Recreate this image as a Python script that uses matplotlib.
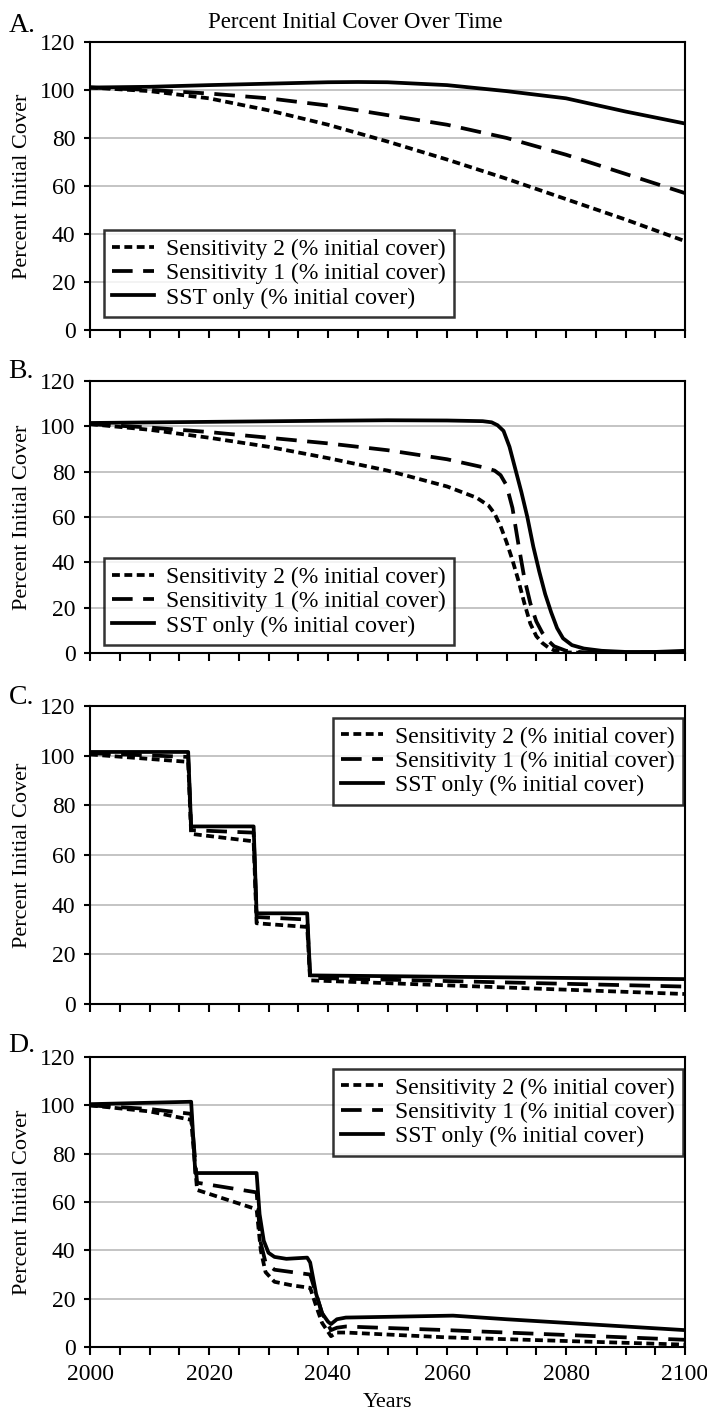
import matplotlib
matplotlib.use('Agg')
import matplotlib.pyplot as plt

plt.rcParams['font.family'] = ['Liberation Serif', 'DejaVu Serif']

# Panel A
a_years = [2000, 2010, 2020, 2030, 2040, 2045, 2050, 2060, 2070, 2080, 2090, 2100]
a_sst = [101, 101.3, 102, 102.6, 103.2, 103.3, 103.2, 102, 99.5, 96.5, 91, 86]
a_s1_years = [2000, 2010, 2020, 2030, 2040, 2050, 2060, 2070, 2080, 2090, 2100]
a_s1 = [101, 100, 98.5, 96.5, 93.5, 89.5, 85.5, 80, 73, 65, 57]
a_s2 = [101, 99.5, 96.5, 91.5, 85.5, 78.5, 71, 63, 54.5, 46, 37]

# Panel B
b_sst_years = [2000, 2020, 2040, 2050, 2060, 2066, 2067.5, 2068.5, 2069.5, 2070.5, 2071.5, 2072.5,
               2073.5, 2074.5, 2075.5, 2076.5, 2077.5, 2078.5, 2079.5, 2081, 2083, 2086, 2090, 2095, 2100]
b_sst = [101.5, 102, 102.5, 102.7, 102.6, 102.3, 101.8, 100.5, 98, 91, 81, 71,
         60, 47, 36, 26, 18, 11, 6.5, 3.5, 2, 1, 0.5, 0.5, 1]
b_s1_years = [2000, 2010, 2020, 2030, 2040, 2050, 2060, 2066, 2068, 2069, 2070, 2071, 2072,
              2073, 2074, 2075, 2076, 2077, 2078, 2080, 2083, 2090, 2100]
b_s1 = [101, 99.5, 97.5, 95, 92.5, 89.5, 85.5, 82, 80.5, 78.5, 74, 64, 48,
        33, 22, 14, 9, 5.5, 3, 1, 0.3, 0.2, 0.5]
b_s2_years = [2000, 2010, 2020, 2030, 2040, 2050, 2060, 2065, 2067, 2068, 2069, 2070, 2071,
              2072, 2073, 2074, 2075, 2076, 2077, 2078, 2080, 2085, 2100]
b_s2 = [101, 98.5, 95, 91, 86, 80.5, 73.5, 68.5, 65, 61.5, 56, 49, 41,
        32, 22, 13, 7.5, 4.5, 2.5, 1.2, 0.3, 0, 0]

# Panel C
c_years = [2000, 2016.5, 2017, 2027.5, 2028, 2036.5, 2037, 2100]
c_sst = [101.5, 101.5, 71.5, 71.5, 36.5, 36.5, 11.5, 10]
c_s1 = [101, 99.5, 70, 69, 35, 34, 10.5, 7]
c_s2 = [100.5, 97.5, 68.5, 65.5, 32.5, 31, 9.5, 4]

# Panel D
d_sst_years = [2000, 2017, 2017.7, 2028, 2028.5, 2029.2, 2030, 2031, 2033, 2036.5, 2037, 2038,
               2039, 2040, 2040.5, 2041.5, 2043, 2050, 2061, 2070, 2080, 2090, 2100]
d_sst = [100.5, 101.5, 72, 72, 55, 44, 39, 37.3, 36.5, 37, 35, 22,
         14, 10.5, 9.5, 11.5, 12.2, 12.5, 13, 11.5, 10, 8.5, 7]
d_years = [2000, 2010, 2017, 2018, 2028, 2028.7, 2029.5, 2031, 2034, 2037, 2038, 2039,
           2040.5, 2041.5, 2043, 2060, 2080, 2100]
d_s1 = [100, 98.5, 96.5, 68, 64, 43, 35, 32, 31, 30, 22, 14, 7, 8, 8.5, 7, 5, 3]
d_s2 = [100, 97.5, 94, 65, 57, 40, 31, 27, 25.5, 24.5, 17, 10, 4.5, 6, 6, 4, 2.5, 1]

labels = ['Sensitivity 2 (% initial cover)', 'Sensitivity 1 (% initial cover)', 'SST only (% initial cover)']
x_ticks = list(range(2000, 2101, 5))
x_ticklabels = [str(t) if t % 20 == 0 else '' for t in x_ticks]
y_ticks = [0, 20, 40, 60, 80, 100, 120]

panels = [
    ('A.', (a_s1_years, a_s2), (a_s1_years, a_s1), (a_years, a_sst)),
    ('B.', (b_s2_years, b_s2), (b_s1_years, b_s1), (b_sst_years, b_sst)),
    ('C.', (c_years, c_s2), (c_years, c_s1), (c_years, c_sst)),
    ('D.', (d_years, d_s2), (d_years, d_s1), (d_sst_years, d_sst)),
]

# axes positions in figure fractions (left, bottom, width, height)
boxes = [
    (0.1273, 0.7670, 0.8416, 0.2034),
    (0.1273, 0.5388, 0.8416, 0.1921),
    (0.1273, 0.2910, 0.8416, 0.2104),
    (0.1273, 0.0487, 0.8416, 0.2048),
]
leg_pos = [('lower left', (0.023, 0.045)), ('lower left', (0.023, 0.03)),
           ('upper right', (0.997, 0.96)), ('upper right', (0.997, 0.959))]
label_y = [1 - 25 / 1416, 1 - 372 / 1416, 1 - 698 / 1416, 1 - 1045 / 1416]

fig = plt.figure(figsize=(7.07, 14.16), dpi=100)

for i, (name, s2, s1, sst) in enumerate(panels):
    ax = fig.add_axes(boxes[i])
    ax.plot(s2[0], s2[1], color='black', lw=2.7, dashes=(2.1, 1.2), label=labels[0])
    ax.plot(s1[0], s1[1], color='black', lw=2.7, dashes=(5.5, 2.8), label=labels[1])
    ax.plot(sst[0], sst[1], color='black', lw=2.7, label=labels[2])

    ax.set_xlim(2000, 2100)
    ax.set_ylim(0, 120)
    ax.set_yticks(y_ticks)
    ax.set_xticks(x_ticks)
    if i == 3:
        ax.set_xticklabels(x_ticklabels)
        ax.set_xlabel('Years', fontsize=16, labelpad=6)
    else:
        ax.set_xticklabels([])
    ax.grid(axis='y', color='#b4b4b4', lw=1.1)
    ax.set_axisbelow(True)
    ax.tick_params(axis='x', direction='out', length=6, width=1.5, labelsize=17, pad=6)
    ax.tick_params(axis='y', direction='out', length=4.5, width=1.5, labelsize=17, pad=6)
    for sp in ax.spines.values():
        sp.set_linewidth(1.5)
        sp.set_color('black')
    ax.set_ylabel('Percent Initial Cover', fontsize=16)
    ax.yaxis.set_label_coords(-0.098, 0.5)

    loc, anchor = leg_pos[i]
    leg = ax.legend(loc=loc, bbox_to_anchor=anchor, borderaxespad=0, fontsize=17,
                    frameon=True, fancybox=False, handlelength=1.8, handletextpad=0.5,
                    labelspacing=0.12, borderpad=0.35)
    leg.get_frame().set_edgecolor('black')
    leg.get_frame().set_linewidth(1.8)

    fig.text(0.012, label_y[i], name, fontsize=20, va='center', ha='left')

fig.text(355 / 707, 1 - 22 / 1416, 'Percent Initial Cover Over Time', fontsize=16.5,
         ha='center', va='center')

fig.savefig('out.png', dpi=100)
